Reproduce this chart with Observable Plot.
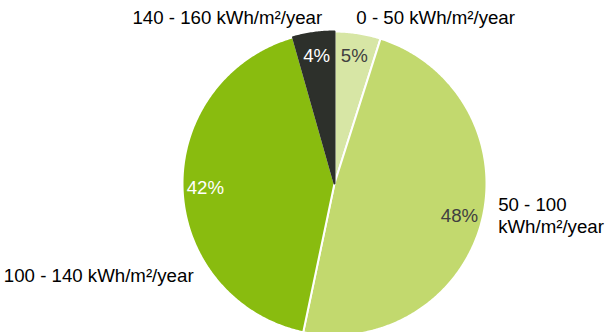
<!DOCTYPE html>
<html>
<head>
<meta charset="utf-8">
<script src="https://cdn.jsdelivr.net/npm/d3@7"></script>
<script src="https://cdn.jsdelivr.net/npm/@observablehq/plot@0.6"></script>
<style>
  html, body { margin: 0; padding: 0; background: #fff; }
  #chart { width: 606px; height: 332px; }
</style>
</head>
<body>
<div id="chart"></div>
<script>
// ---- data ----
const categories = ["0 - 50 kWh/m²/year", "50 - 100 kWh/m²/year", "100 - 140 kWh/m²/year", "140 - 160 kWh/m²/year"];
const outerLabels = ["0 - 50 kWh/m²/year", "50 - 100\nkWh/m²/year", "100 - 140 kWh/m²/year", "140 - 160 kWh/m²/year"];
const shares = [4.9, 48.4, 42.3, 4.4];

// ---- styles / layout ----
const colors = ["#d7e6a5", "#c2d96e", "#89bc0f", "#2d302b"];
const pctColors = ["#404040", "#404040", "#ffffff", "#ffffff"];
const borderColors = ["#ffffff", "#ffffff", "#ffffff", "#2d302b"];
const W = 606, H = 332;
const CX = 334, CY = 183, R = 152;
const FONT = "Liberation Sans, Arial, Helvetica, sans-serif";
const FS = 18.67;
// per-label nudges (dx, dy) in px
const nudges = [[-3, -6], [7, -10], [21, 86], [10, -6]];

// ---- geometry from data ----
const total = d3.sum(shares);
let acc = 0;
const slices = shares.map((v, i) => {
  const a0 = acc / total * 2 * Math.PI;
  acc += v;
  const a1 = acc / total * 2 * Math.PI;
  return {i, key: categories[i], value: v, a0, a1, mid: (a0 + a1) / 2};
});
const pt = (a, r) => ({x: CX + r * Math.sin(a), y: CY - r * Math.cos(a)});

function polygon(s) {
  const pts = [{...pt(0, 0)}];
  const n = Math.max(2, Math.ceil((s.a1 - s.a0) / (Math.PI / 360)));
  for (let k = 0; k <= n; k++) pts.push(pt(s.a0 + (s.a1 - s.a0) * k / n, R));
  return pts;
}

const marks = [];
slices.forEach(s => {
  marks.push(Plot.line(polygon(s), {
    x: "x", y: "y", curve: "linear-closed",
    fill: colors[s.i], stroke: borderColors[s.i], strokeWidth: 2, strokeLinejoin: "round"
  }));
});
// percentage labels
slices.forEach(s => {
  const p = pt(s.mid, R * 0.85);
  marks.push(Plot.text([{...p, t: Math.round(s.value) + "%"}], {
    x: "x", y: "y", text: "t", fill: pctColors[s.i],
    fontSize: FS, fontFamily: FONT, textAnchor: "middle", lineAnchor: "middle"
  }));
});
// category labels
slices.forEach(s => {
  const p = pt(s.mid, R + 10);
  const right = Math.sin(s.mid) >= 0;
  marks.push(Plot.text([{...p, t: outerLabels[s.i]}], {
    x: "x", y: "y", text: "t", fill: "#000",
    fontSize: FS, fontFamily: FONT, lineHeight: 1.18,
    textAnchor: right ? "start" : "end", lineAnchor: "middle",
    dx: nudges[s.i][0], dy: nudges[s.i][1]
  }));
});

const chart = Plot.plot({
  width: W, height: H,
  margin: 0,
  x: {domain: [0, W], range: [0, W], axis: null},
  y: {domain: [0, H], range: [0, H], axis: null},
  style: {background: "#fff", overflow: "visible"},
  marks
});
document.getElementById("chart").append(chart);
</script>
</body>
</html>
